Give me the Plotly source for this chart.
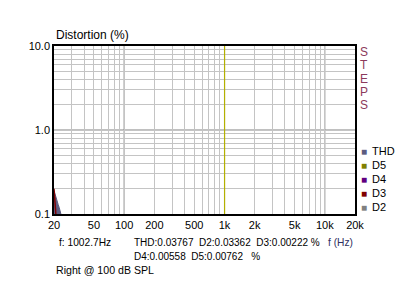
import plotly.graph_objects as go

# ---- data ----
thd_f = [20, 20.5, 21, 21.5, 22, 22.5, 23, 24]
thd_v = [0.19, 0.17, 0.15, 0.14, 0.13, 0.12, 0.105, 0.09]
d3_f = [20, 20.3, 20.6, 21]
d3_v = [0.2, 0.15, 0.11, 0.09]
cursor_f = 1002.7

x_grid = [20, 30, 40, 50, 60, 70, 80, 90, 100, 200, 300, 400, 500, 600, 700, 800, 900,
          1000, 2000, 3000, 4000, 5000, 6000, 7000, 8000, 9000, 10000, 20000]
x_labels = {20: "20", 50: "50", 100: "100", 200: "200", 500: "500", 1000: "1k",
            2000: "2k", 5000: "5k", 10000: "10k", 20000: "20k"}
y_grid = [0.1, 0.2, 0.3, 0.4, 0.5, 0.6, 0.7, 0.8, 0.9, 1, 2, 3, 4, 5, 6, 7, 8, 9, 10]
y_labels = {0.1: "0.1", 1: "1.0", 10: "10.0"}
x_major = [100, 1000, 10000]
y_major = [1]

legend_names = ["THD", "D5", "D4", "D3", "D2"]
legend_colors = ["#5c5c80", "#808000", "#600080", "#800000", "#808080"]

FONT = "Liberation Sans, Arial, sans-serif"
SP = "&nbsp;"

fig = go.Figure()

fig.add_trace(go.Scatter(x=thd_f, y=thd_v, mode="lines", fill="tozeroy",
                         line=dict(color="#5c5c80", width=1), fillcolor="#5c5c80",
                         showlegend=False))
fig.add_trace(go.Scatter(x=d3_f, y=d3_v, mode="lines",
                         line=dict(color="#800000", width=1.5), showlegend=False))

shapes = []
for xv in x_major:
    shapes.append(dict(type="line", xref="x", yref="paper", x0=xv, x1=xv, y0=0, y1=1,
                       line=dict(color="#808080", width=1), layer="below"))
for yv in y_major:
    shapes.append(dict(type="line", xref="paper", yref="y", x0=0, x1=1, y0=yv, y1=yv,
                       line=dict(color="#808080", width=1), layer="below"))
shapes.append(dict(type="line", xref="x", yref="paper", x0=cursor_f, x1=cursor_f, y0=0, y1=1,
                   line=dict(color="#b4b000", width=1.2)))

W, H = 400, 294
L, R, T, B = 54, 45, 46, 80
pw, ph = W - L - R, H - T - B


def px(xp, yp, text, size=11, color="#000", xanchor="left", yanchor="middle"):
    return dict(text=text, x=(xp - L) / pw, y=(H - B - yp) / ph, xref="paper", yref="paper",
                showarrow=False, xanchor=xanchor, yanchor=yanchor,
                font=dict(family=FONT, size=size, color=color))


annotations = [
    px(54, 35, "Distortion (%)", size=12),
    px(57, 242, "f: 1002.7Hz", size=10.2),
    px(132, 242, "THD:0.03767" + SP * 2 + "D2:0.03362" + SP * 2 + "D3:0.00222 %", size=10),
    px(132, 256, "D4:0.00558" + SP * 2 + "D5:0.00762" + SP * 3 + "%", size=10),
    px(355, 242, "f (Hz)", size=10.2, color="#303060", xanchor="right"),
    px(54, 270, "Right @ 100 dB SPL", size=10.6),
]
for i, ch in enumerate("STEPS"):
    annotations.append(px(358, 52 + i * 13.3, ch, size=12, color="#8c3a5c"))
for i, (nm, col) in enumerate(zip(legend_names, legend_colors)):
    yy = 151 + i * 14
    annotations.append(px(359, yy, "■", size=10, color=col))
    annotations.append(px(370, yy, nm, size=11))

fig.update_layout(
    width=W, height=H, margin=dict(l=L, r=R, t=T, b=B),
    paper_bgcolor="white", plot_bgcolor="white",
    showlegend=False, shapes=shapes, annotations=annotations,
    font=dict(family=FONT, size=11, color="#000"),
    xaxis=dict(type="log", range=[1.30103, 4.30103],
               tickmode="array", tickvals=x_grid,
               ticktext=[x_labels.get(v, "") for v in x_grid],
               showgrid=True, gridcolor="#c4c4c4", gridwidth=1,
               showline=True, linecolor="#000", linewidth=1.5, mirror=True,
               ticks="", zeroline=False, tickfont=dict(size=11, family=FONT)),
    yaxis=dict(type="log", range=[-1, 1],
               tickmode="array", tickvals=y_grid,
               ticktext=[y_labels.get(v, "") for v in y_grid],
               showgrid=True, gridcolor="#c4c4c4", gridwidth=1,
               showline=True, linecolor="#000", linewidth=1.5, mirror=True,
               ticks="", zeroline=False, tickfont=dict(size=11, family=FONT)),
)

fig.write_html("out.html")
